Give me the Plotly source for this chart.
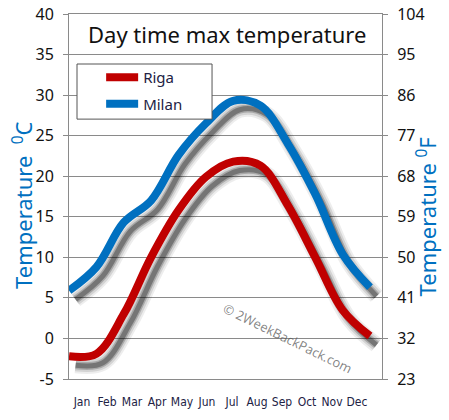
import plotly.graph_objects as go

months = ["Jan", "Feb", "Mar", "Apr", "May", "Jun", "Jul", "Aug", "Sep", "Oct", "Nov", "Dec"]
riga = [-2.2, -1.9, 3.0, 10.0, 15.8, 19.9, 21.8, 21.3, 16.4, 10.0, 3.5, 0.3]
milan = [5.9, 8.8, 14.3, 17.0, 22.6, 26.5, 29.3, 28.7, 24.0, 17.8, 10.4, 6.3]
c_ticks = [-5, 0, 5, 10, 15, 20, 25, 30, 35, 40]
f_ticks = [23, 32, 41, 50, 59, 68, 77, 86, 95, 104]

RED = "#C00000"
BLUE = "#0070C0"
GRID = "#8a8a8a"
FONT = "Noto Sans"
NARROW = "DejaVu Sans Condensed, Liberation Sans Narrow, Noto Sans"

idx = list(range(len(months)))
sx, sy = 0.24, -1.1  # shadow offset (months, degC)

fig = go.Figure()

# blurred drop shadows
for series in (riga, milan):
    for w, a in ((16, 0.07), (12, 0.11), (8, 0.2), (5, 0.3)):
        fig.add_trace(go.Scatter(
            x=[i + sx for i in idx], y=[v + sy for v in series],
            mode="lines", line=dict(color=f"rgba(0,0,0,{a})", width=w, shape="spline", smoothing=1.0),
            hoverinfo="skip", showlegend=False))

fig.add_trace(go.Scatter(x=idx, y=riga, name="Riga", mode="lines", legendgroup="riga",
                         line=dict(color=RED, width=8, shape="spline", smoothing=1.0)))
fig.add_trace(go.Scatter(x=idx, y=milan, name="Milan", mode="lines", legendgroup="milan",
                         line=dict(color=BLUE, width=8, shape="spline", smoothing=1.0)))

# invisible traces to activate secondary axes
fig.add_trace(go.Scatter(x=idx, y=[None] * 12, xaxis="x2", yaxis="y", showlegend=False, hoverinfo="skip"))
fig.add_trace(go.Scatter(x=[0], y=[None], xaxis="x", yaxis="y2", showlegend=False, hoverinfo="skip"))

fig.update_layout(
    width=449, height=420,
    margin=dict(l=69, r=67, t=14, b=41, autoexpand=False),
    paper_bgcolor="white", plot_bgcolor="white",
    font=dict(family=FONT, color="#111111"),
    showlegend=True,
    legend=dict(x=0.026, y=0.871, xanchor="left", yanchor="top",
                bgcolor="rgba(0,0,0,0)", borderwidth=0,
                font=dict(size=15, color="#222244"), indentation=24, itemwidth=32,
                tracegroupgap=4),
    shapes=[dict(type="rect", xref="paper", yref="paper", x0=0.0256, x1=0.457, y0=0.712, y1=0.863,
                 fillcolor="white", line=dict(color="#555555", width=1), layer="above")],
    xaxis=dict(range=[0, 11.44], showgrid=False, showticklabels=False, ticks="",
               showline=True, linecolor=GRID, linewidth=1, mirror=True, zeroline=False,
               automargin=False),
    xaxis2=dict(overlaying="x", side="bottom", range=[-0.52, 12.0],
                tickmode="array", tickvals=idx, ticktext=months, ticks="", tickangle=0,
                showgrid=False, showline=False, zeroline=False, automargin=False,
                ticklabelstandoff=14,
                tickfont=dict(size=12, color="#222244", family=NARROW)),
    yaxis=dict(range=[-5, 40], tickmode="array", tickvals=c_ticks, ticktext=[str(t) for t in c_ticks],
               showgrid=True, gridcolor=GRID, gridwidth=1,
               showline=True, linecolor=GRID, linewidth=1, ticks="outside", ticklen=5, tickcolor=GRID,
               zeroline=False, tickfont=dict(size=16, color="#111111"), ticklabelstandoff=6,
               automargin=False),
    yaxis2=dict(range=[23, 104], tickmode="array", tickvals=f_ticks, ticktext=[str(t) for t in f_ticks],
                overlaying="y", side="right",
                showgrid=False, showline=True, linecolor=GRID, linewidth=1, ticks="outside", ticklen=5,
                tickcolor=GRID, zeroline=False, tickfont=dict(size=16, color="#111111"), ticklabelstandoff=6,
                automargin=False),
    annotations=[
        dict(text="Day time max temperature", xref="paper", yref="y", x=0.505, y=37.5,
             showarrow=False, font=dict(size=22, color="#111111", family=FONT)),
        dict(text="Temperature  <sup>0</sup>C", xref="paper", yref="paper", x=-0.147, y=0.477,
             xanchor="center", yanchor="middle", textangle=-90, showarrow=False,
             font=dict(size=22, color=BLUE, family=FONT)),
        dict(text="Temperature <sup>0</sup>F", xref="paper", yref="paper", x=1.142, y=0.444,
             xanchor="center", yanchor="middle", textangle=-90, showarrow=False,
             font=dict(size=22, color=BLUE, family=FONT)),
        dict(text="© 2WeekBackPack.com", xref="x", yref="y", x=7.97, y=0.0, textangle=26,
             showarrow=False, font=dict(size=13, color="rgba(90,90,90,0.75)", family="Open Sans")),
    ],
)

fig.write_html("out.html", config={"displayModeBar": False},
               post_script="document.body.style.margin='0px';")
